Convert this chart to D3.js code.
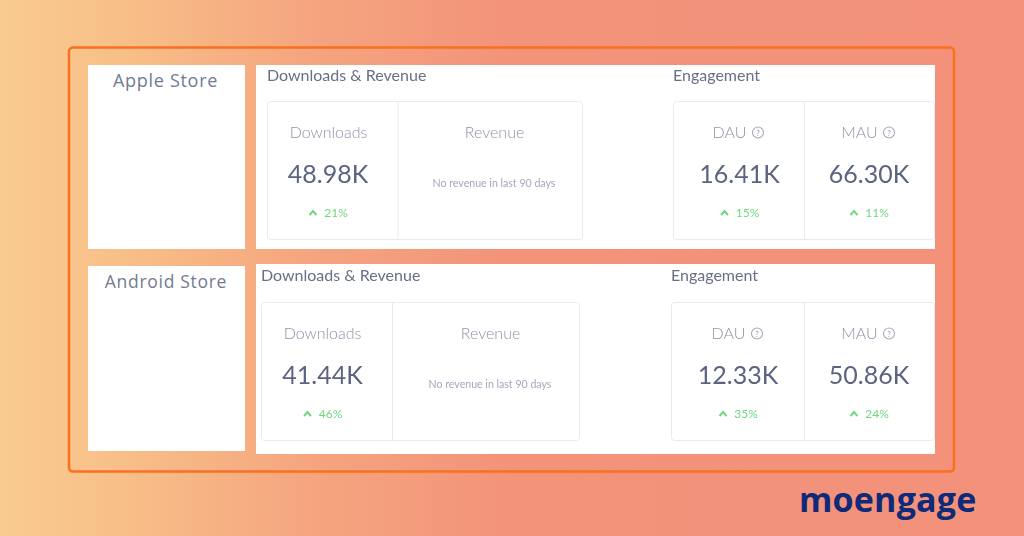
<!DOCTYPE html>
<html><head><meta charset="utf-8">
<script src="https://cdn.jsdelivr.net/npm/d3@7"></script>
<style>html,body{margin:0;padding:0;background:#f3917a;overflow:hidden}svg{display:block}</style>
</head><body><svg id="c" width="1024" height="536"></svg>
<script>
const stores = ["Apple Store", "Android Store"];
const sections = ["Downloads & Revenue", "Engagement"];
const metricNames = ["Downloads", "Revenue", "DAU", "MAU"];
const appleValues = ["48.98K", null, "16.41K", "66.30K"];
const androidValues = ["41.44K", null, "12.33K", "50.86K"];
const appleChange = ["21%", null, "15%", "11%"];
const androidChange = ["46%", null, "35%", "24%"];
const emptyNote = "No revenue in last 90 days";
const brand = "moengage";

const layouts = [
 {label:[88,65,157,184], labelY:87, panel:[256,65,679,184], titleY:81, titleX:[267,673],
  card1:[267.5,101.5,315,138], div1:398, card2:[673.5,101.5,261,138], div2:804.5,
  c:[328,494,739.5,869], nameC:[328.5,494.5,729.5,859.5], icon:[758,889], nameY:137.5, valueY:183, noteY:187, chgY:217},
 {label:[88,266,157,185], labelY:288, panel:[256,264,679,190], titleY:281, titleX:[261,671],
  card1:[261.5,302.5,318,138], div1:392.5, card2:[671.5,302.5,263,138], div2:804.5,
  c:[322.5,490,738,869], nameC:[322.5,490.5,728.5,859.5], icon:[757,889], nameY:338.5, valueY:384, noteY:388, chgY:418}
];
const values=[appleValues,androidValues], changes=[appleChange,androidChange];

const svg=d3.select("#c");
const defs=svg.append("defs");
const g=defs.append("linearGradient").attr("id","bg").attr("x1","0").attr("x2","1").attr("y1","0").attr("y2","0");
[[0,"#f9cb90"],[0.12,"#f8bf88"],[0.3,"#f5a57f"],[0.5,"#f3937a"],[1,"#f3917a"]].forEach(s=>g.append("stop").attr("offset",s[0]).attr("stop-color",s[1]));
defs.append("filter").attr("id","soft").append("feGaussianBlur").attr("stdDeviation",0.4);
svg.append("rect").attr("width",1024).attr("height",536).attr("fill","url(#bg)");
svg.append("rect").attr("x",69).attr("y",47.5).attr("width",885).attr("height",424).attr("rx",4)
  .attr("fill","none").attr("stroke","#f9701f").attr("stroke-width",2.5);

const rect=(p,a,fill,stroke,rx)=>p.append("rect").attr("x",a[0]).attr("y",a[1]).attr("width",a[2]).attr("height",a[3])
  .attr("fill",fill).attr("stroke",stroke||"none").attr("rx",rx||0);
const F="Lato, sans-serif";
const arrow=(p,x,y)=>p.append("path").attr("d",d3.line()([[x-3.5,y+2],[x,y-2],[x+3.5,y+2]]))
  .attr("fill","none").attr("stroke","#6fd77f").attr("stroke-width",1.9);

layouts.forEach((L,i)=>{
  const r=svg.append("g");
  rect(r,L.label,"#fff");
  rect(r,L.panel,"#fff");
  r.append("text").attr("x",L.label[0]+L.label[2]/2-(i?0.5:1)).attr("y",L.labelY).attr("text-anchor","middle")
    .attr("font-family","'Open Sans', sans-serif").attr("font-size",i?17.5:18).attr("font-weight",400).attr("letter-spacing",0.7).attr("fill","#737b92").text(stores[i]);
  const t=r.append("g").attr("filter","url(#soft)");
  sections.forEach((s,k)=>t.append("text").attr("x",L.titleX[k]).attr("y",L.titleY).attr("font-family",F)
    .attr("font-size",16).attr("fill","#686f88").text(s));
  rect(t,L.card1,"#fff","#e8eaef",3);
  rect(t,L.card2,"#fff","#e8eaef",3);
  [L.div1,L.div2].forEach(x=>t.append("line").attr("x1",x).attr("x2",x).attr("y1",L.card1[1]).attr("y2",L.card1[1]+L.card1[3]).attr("stroke","#e8eaef"));
  metricNames.forEach((m,k)=>{
    const cx=L.c[k];
    t.append("text").attr("x",L.nameC[k]).attr("y",L.nameY).attr("text-anchor","middle").attr("font-family",F)
      .attr("font-weight",300).attr("font-size",16).attr("fill","#8e93a7").text(m);
    if(k>=2){
      const bx=L.icon[k-2], by=L.nameY-5;
      t.append("circle").attr("cx",bx).attr("cy",by).attr("r",5.5).attr("fill","none").attr("stroke","#a5a9b9").attr("stroke-width",1.1);
      t.append("text").attr("x",bx).attr("y",by+3).attr("text-anchor","middle").attr("font-family",F).attr("font-size",8).attr("fill","#9398ab").text("?");
    }
    if(values[i][k]){
      t.append("text").attr("x",cx).attr("y",L.valueY).attr("text-anchor","middle").attr("font-family",F)
       .attr("font-size",25).attr("fill","#5c6480").text(values[i][k]);
      t.append("text").attr("x",cx+8).attr("y",L.chgY).attr("text-anchor","middle").attr("font-family",F)
       .attr("font-size",12).attr("fill","#6fd77f").text(changes[i][k]);
      arrow(t,cx-15,L.chgY-4);
    } else {
      t.append("text").attr("x",cx).attr("y",L.noteY).attr("text-anchor","middle").attr("font-family",F)
       .attr("font-size",10.6).attr("fill","#a4a8b8").text(emptyNote);
    }
  });
});
svg.append("text").attr("x",799).attr("y",512).attr("font-family","'Open Sans', sans-serif").attr("font-weight",700)
  .attr("font-size",34).attr("letter-spacing",0.2).attr("fill","#0f2a78").text(brand);
</script></body></html>
